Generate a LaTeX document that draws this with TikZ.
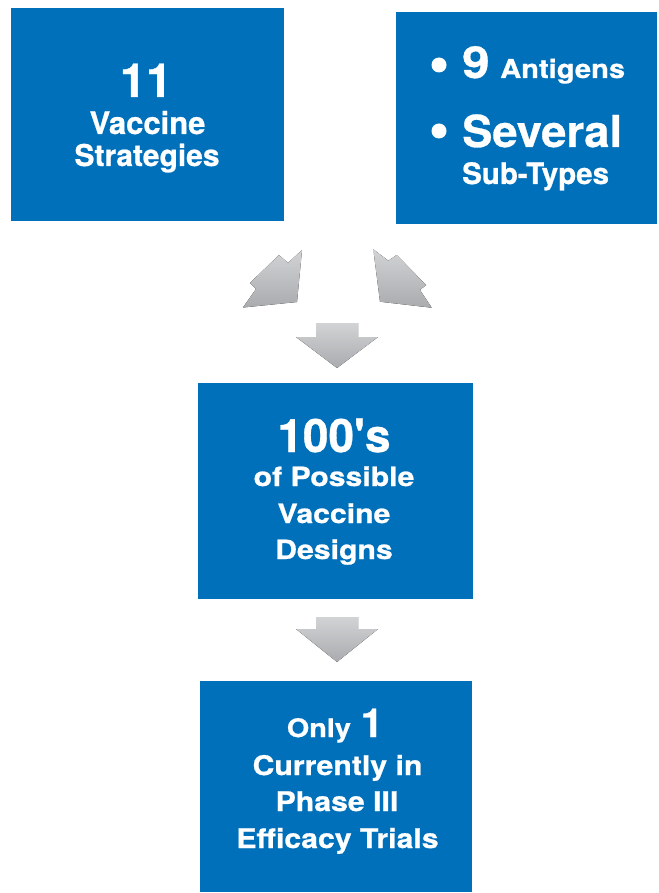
\documentclass[tikz,border=0pt]{standalone}
\usepackage{fontspec}
\newfontfamily\heros{TeX Gyre Heros}[BoldFeatures={FakeBold=0.7}]
\definecolor{boxblue}{RGB}{0,112,186}
\definecolor{arrtop}{RGB}{210,211,213}
\definecolor{arrbot}{RGB}{170,171,174}
\newcommand{\fs}[1]{\fontsize{#1}{#1}\selectfont}
\newcommand{\hs}[2]{\scalebox{#1}[1]{#2}}
\begin{document}
\begin{tikzpicture}[x=1pt,y=-1pt,
  bluebox/.style={fill=boxblue, draw=none, inner sep=0pt, rectangle},
  txt/.style={text=white, font=\heros\bfseries, inner sep=0pt, anchor=base},
  bulletdot/.style={circle, fill=white, draw=none, inner sep=0pt, minimum size=15pt},
  blockarrow/.style={top color=arrtop, bottom color=arrbot, draw=none}]
\useasboundingbox (0,0) rectangle (658,893);
% boxes
\node[bluebox, minimum width=273pt, minimum height=213pt] (b1) at (147.5,114.5) {};
\node[bluebox, minimum width=261pt, minimum height=212pt] (b2) at (526.5,118) {};
\node[bluebox, minimum width=275pt, minimum height=216pt] (b3) at (335.5,491) {};
\node[bluebox, minimum width=272pt, minimum height=211pt] (b4) at (336,786.5) {};
% box 1 text
\node[txt] (t1n) at (146,97) {\fs{47}11};
\node[txt] (t1a) at (147.5,134) {\fs{31}Vaccine};
\node[txt] (t1b) at (147,166) {\fs{30}Strategies};
% box 2 text
\node[bulletdot] (bul1) at (439,65) {};
\node[bulletdot] (bul2) at (439,131) {};
\node[txt, anchor=base west] (t2n) at (462,78) {\fs{44}\hs{1.12}{9}};
\node[txt, anchor=base west] (t2a) at (500,78) {\fs{26}\hs{1.12}{Antigens}};
\node[txt, anchor=base west] (t2b) at (462,147) {\fs{44}\hs{1.03}{Several}};
\node[txt, anchor=base west] (t2c) at (462,184) {\fs{29.5}Sub-Types};
% box 3 text
\node[txt] (t3n) at (334,452) {\fs{46}100's};
\node[txt] (t3a) at (334,486) {\fs{26.5}\hs{1.14}{of Possible}};
\node[txt] (t3b) at (334,523) {\fs{26.5}\hs{1.14}{Vaccine}};
\node[txt] (t3c) at (334,559) {\fs{26.5}\hs{1.14}{Designs}};
% box 4 text
\node[txt] (t4n) at (335,737) {\fs{25.5}\hs{1.13}{Only}\hspace{10pt}\fs{40}1};
\node[txt] (t4a) at (337.5,775) {\fs{27}\hs{1.12}{Currently in}};
\node[txt] (t4b) at (337,811) {\fs{27}\hs{1.12}{Phase III}};
\node[txt] (t4c) at (337.5,848) {\fs{27}\hs{1.12}{Efficacy Trials}};
% block arrows
\fill[blockarrow] (302,250) -- (297,302) -- (243,307.5) -- (256,289) -- (250,283) -- (279,255) -- (288,263) -- cycle;
\fill[blockarrow] (373.3,249.3) -- (380,301.7) -- (431.7,307.7) -- (420,290) -- (426,285) -- (396.7,255) -- (388.3,260.7) -- cycle;
\fill[blockarrow] (316,323) -- (358,323) -- (358,337) -- (378,337) -- (337,368) -- (296,337) -- (316,337) -- cycle;
\fill[blockarrow] (316,617) -- (358,617) -- (358,629) -- (378,629) -- (337,662) -- (296,629) -- (316,629) -- cycle;
\end{tikzpicture}
\end{document}
